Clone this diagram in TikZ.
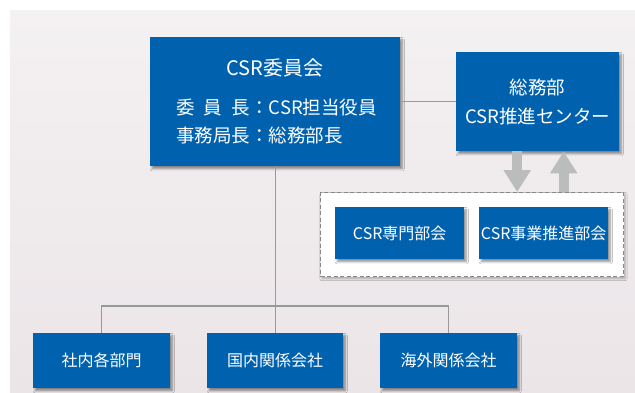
\documentclass[tikz,border=0pt]{standalone}
\usepackage{fontspec}
\setmainfont{Noto Sans CJK JP}
\usetikzlibrary{calc,shadows.blur,arrows.meta}
\definecolor{boxblue}{HTML}{0062AE}
\definecolor{bgtop}{HTML}{F4F1F2}
\definecolor{bgbot}{HTML}{EBE5E8}
\definecolor{linegray}{HTML}{999999}
\definecolor{arrowgray}{HTML}{BBBDBD}
\definecolor{dashgray}{HTML}{888888}
\tikzset{
  bluebox/.style={fill=boxblue, text=white, inner sep=0pt, anchor=north west,
    blur shadow={shadow xshift=2pt, shadow yshift=-2.5pt, shadow blur steps=6, shadow opacity=45}},
  smallbox/.style={bluebox, font=\fontsize{16}{19}\selectfont},
  conn/.style={draw=linegray, line width=1.2pt},
  bigarrow/.style={draw=arrowgray, line width=10pt, -{Triangle[width=26pt,length=22pt]}},
  wtext/.style={text=white, inner sep=0pt}
}
\begin{document}
\begin{tikzpicture}[x=1pt,y=-1pt]
\shade[top color=bgtop, bottom color=bgbot] (10,10) rectangle (635,392);
% main committee
\node[bluebox, minimum width=250pt, minimum height=129pt] (main) at (150,37) {};
\node[wtext, anchor=base, font=\fontsize{20}{24}\selectfont] (title) at (275,75) {CSR委員会};
\node[wtext, anchor=base west, font=\fontsize{18.5}{22}\selectfont] (l1) at (176,114) {委\hspace{0.5em}員\hspace{0.5em}長：CSR担当役員};
\node[wtext, anchor=base west, font=\fontsize{18.5}{22}\selectfont] (l2) at (176,142) {事務局長：総務部長};
% general affairs
\node[bluebox, minimum width=163pt, minimum height=99pt, align=center,
  font=\fontsize{18.5}{29}\selectfont] (soumu) at (456,52) {総務部\\CSR推進センター};
% dashed container
\node[draw=dashgray, dash pattern=on 4pt off 2.5pt, line width=1.1pt, fill=white,
  minimum width=303pt, minimum height=84pt, anchor=north west, inner sep=0pt,
  blur shadow={shadow xshift=1.5pt, shadow yshift=-2pt, shadow blur steps=5, shadow opacity=30}] (cont) at (320,192) {};
\node[smallbox, minimum width=129pt, minimum height=52pt] (s1) at (335,207) {CSR専門部会};
\node[smallbox, minimum width=129pt, minimum height=52pt] (s2) at (479,207) {CSR事業推進部会};
% bottom boxes
\node[smallbox, minimum width=137pt, minimum height=55pt] (b1) at (33,333) {社内各部門};
\node[smallbox, minimum width=136pt, minimum height=55pt] (b2) at (207,333) {国内関係会社};
\node[smallbox, minimum width=137pt, minimum height=55pt] (b3) at (380,333) {海外関係会社};
% connectors
\draw[conn] (soumu.west) -- (soumu.west -| main.east);
\draw[conn] (main.south) -- (b2.north);
\draw[conn] (b1.north) -- ++(0,-27) -| (b3.north);
% arrows
\coordinate (dn) at ($(soumu.south)+(-20.5,0)$);
\coordinate (up) at ($(soumu.south)+(26,0)$);
\draw[bigarrow] (dn) -- (dn |- cont.north);
\draw[bigarrow] (up |- cont.north) -- (up);
\pgfresetboundingbox
\path[use as bounding box] (0,0) rectangle (635,392);
\end{tikzpicture}
\end{document}
